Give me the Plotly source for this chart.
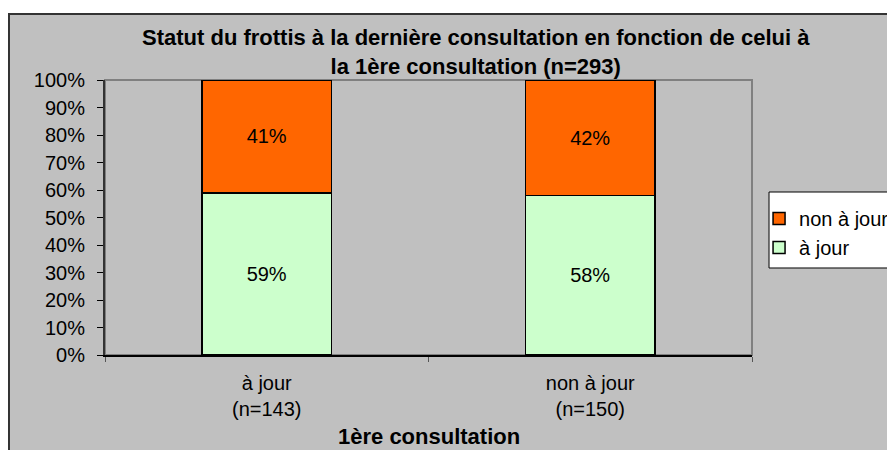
import plotly.graph_objects as go

categories = ["à jour<br>(n=143)", "non à jour<br>(n=150)"]
a_jour = [59, 58]
non_a_jour = [41, 42]
series_names = ["à jour", "non à jour"]

FONT = "Liberation Sans, Arial, sans-serif"

fig = go.Figure()
fig.add_trace(go.Bar(
    x=categories, y=a_jour, name=series_names[0],
    text=[f"{v}%" for v in a_jour], textposition="inside", insidetextanchor="middle",
    marker=dict(color="#ccffcc", line=dict(color="black", width=1.5)),
    textfont=dict(color="black", size=20), width=0.4,
))
fig.add_trace(go.Bar(
    x=categories, y=non_a_jour, name=series_names[1],
    text=[f"{v}%" for v in non_a_jour], textposition="inside", insidetextanchor="middle",
    marker=dict(color="#ff6600", line=dict(color="black", width=1.5)),
    textfont=dict(color="black", size=20), width=0.4,
))

# grey chart frame
fig.add_shape(type="rect", xref="paper", yref="paper", layer="below",
              x0=-0.1484, x1=1.25, y0=-0.4, y1=1.24,
              fillcolor="#c0c0c0", line=dict(color="#333333", width=2))
# plot area border
fig.add_shape(type="rect", xref="paper", yref="paper", layer="between",
              x0=0, x1=1, y0=0, y1=1,
              line=dict(color="#808080", width=2))
# legend box
fig.add_shape(type="rect", xref="paper", yref="paper", layer="below",
              x0=1.0263, x1=1.25, y0=0.3164, y1=0.5927,
              fillcolor="white", line=dict(color="black", width=1))

fig.add_annotation(
    text="<b>Statut du frottis à la dernière consultation en fonction de celui à<br>la 1ère consultation (n=293)</b>",
    xref="paper", yref="paper", x=0.5734, y=1.1018, xanchor="center", yanchor="middle",
    showarrow=False, font=dict(size=22, family=FONT),
)
fig.add_annotation(
    text="<b>1ère consultation</b>",
    xref="paper", yref="paper", x=0.5, y=-0.298, xanchor="center", yanchor="middle",
    showarrow=False, font=dict(size=22, family=FONT),
)

fig.update_layout(
    width=887, height=442,
    barmode="stack",
    paper_bgcolor="white", plot_bgcolor="white",
    margin=dict(l=97, r=143, t=72, b=95, autoexpand=False),
    font=dict(family=FONT, size=20, color="black"),
    showlegend=True,
    legend=dict(
        x=1.0109, xanchor="left", y=0.4436, yanchor="middle",
        bgcolor="rgba(0,0,0,0)", borderwidth=0,
        traceorder="reversed", font=dict(size=20),
    ),
)
fig.update_yaxes(
    range=[0, 100], dtick=10, ticksuffix="%", showgrid=False,
    ticks="outside", ticklen=6, tickcolor="black", ticklabelstandoff=8,
    showline=True, linecolor="#333333", linewidth=2, zeroline=False,
)
fig.update_xaxes(
    showgrid=False, ticks="outside", tickson="boundaries", ticklen=5,
    tickcolor="#555555", showline=True, linecolor="black", linewidth=1.5,
    ticklabelstandoff=9,
)

fig.write_html("out.html")
